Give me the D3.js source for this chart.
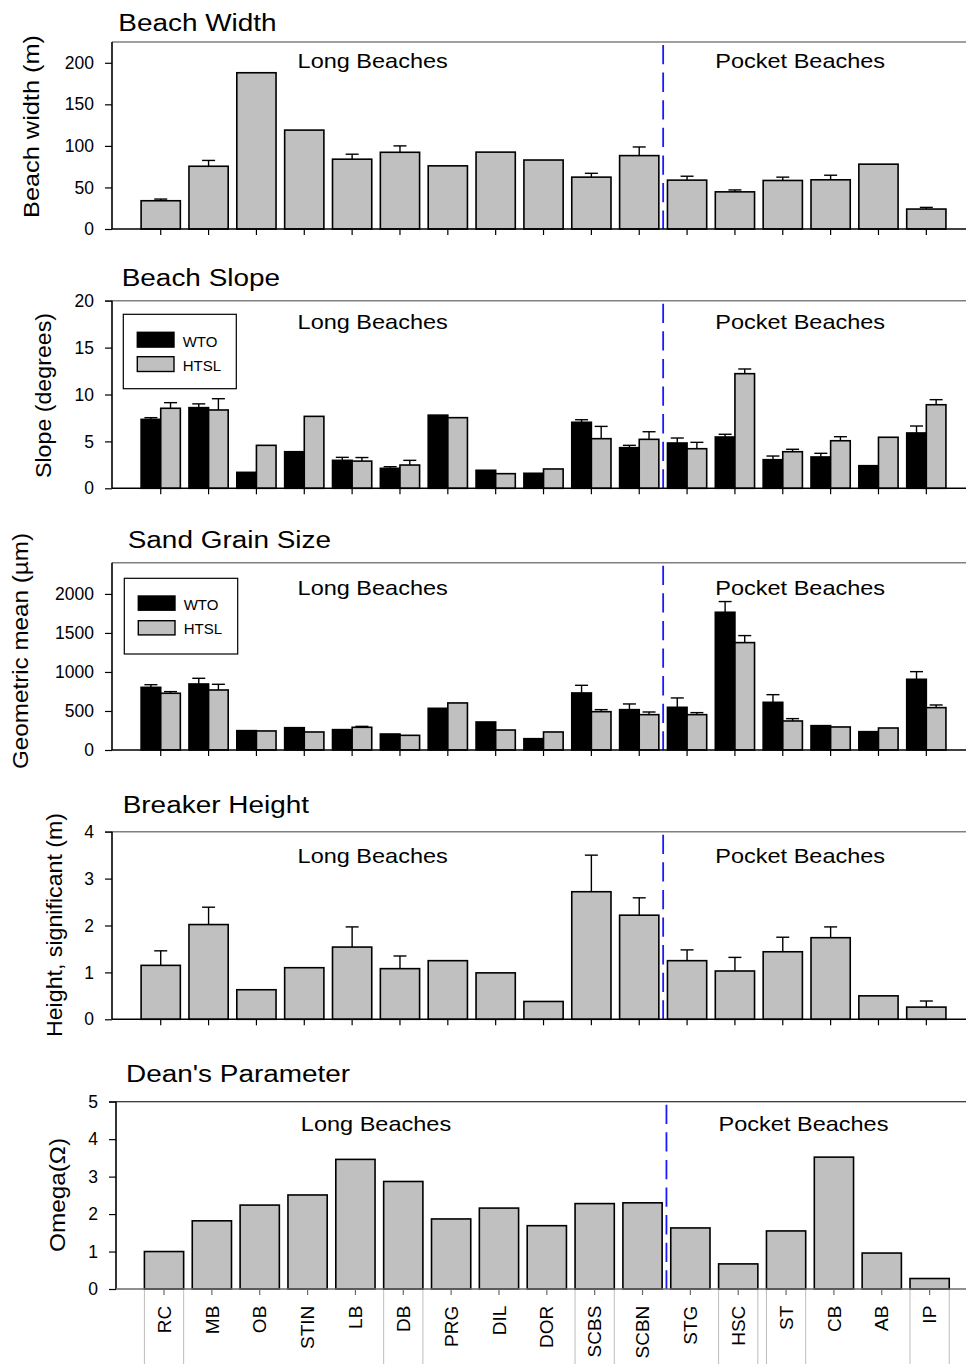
<!DOCTYPE html>
<html>
<head>
<meta charset="utf-8">
<script src="https://cdn.jsdelivr.net/npm/d3@7"></script>
<style>
  html, body { margin: 0; padding: 0; background: #fff; }
  svg { display: block; font-family: "Liberation Sans", Arial, Helvetica, sans-serif; }
</style>
</head>
<body>
<svg id="chart" width="966" height="1364"></svg>
<script>
// Beach sites, long beaches first, pocket beaches from STG on
const categories = ["RC", "MB", "OB", "STIN", "LB", "DB", "PRG", "DIL", "DOR", "SCBS", "SCBN",
                    "STG", "HSC", "ST", "CB", "AB", "IP"];
const firstPocket = "STG";
const regionLabels = ["Long Beaches", "Pocket Beaches"];
const seriesNames = ["WTO", "HTSL"];

// Beach width (m) with upper error
const widthMean = [34, 75.5, 188, 119, 84, 92.3, 76, 92.5, 83, 62.4, 88.3, 58.8, 44.7, 58.4, 59.2, 78, 24];
const widthErr  = [2, 7, 0, 0, 6, 7.7, 0, 0, 0, 4.6, 10.4, 4.7, 2.3, 4, 5.5, 0, 2];

// Beach slope (degrees)
const slopeWTO     = [7.35, 8.6, 1.7, 3.9, 2.98, 2.13, 7.8, 1.92, 1.6, 7.04, 4.33, 4.83, 5.47, 3.05, 3.34, 2.41, 5.9];
const slopeWTOErr  = [0.18, 0.4, 0, 0, 0.32, 0.17, 0, 0, 0, 0.27, 0.25, 0.53, 0.29, 0.39, 0.39, 0, 0.74];
const slopeHTSL    = [8.53, 8.35, 4.58, 7.67, 2.9, 2.48, 7.53, 1.56, 2.06, 5.29, 5.22, 4.22, 12.22, 3.9, 5.07, 5.44, 8.91];
const slopeHTSLErr = [0.6, 1.2, 0, 0, 0.38, 0.5, 0, 0, 0, 1.31, 0.81, 0.68, 0.5, 0.26, 0.43, 0, 0.54];

// Sand grain size, geometric mean (µm)
const grainWTO     = [803, 846, 248, 286, 261, 205, 534, 359, 145, 731, 517, 547, 1765, 611, 312, 235, 906];
const grainWTOErr  = [34, 73, 0, 0, 0, 0, 0, 0, 0, 98, 73, 120, 137, 98, 0, 0, 98];
const grainHTSL    = [727, 769, 244, 231, 291, 188, 603, 256, 231, 491, 453, 453, 1376, 372, 295, 282, 543];
const grainHTSLErr = [21, 73, 0, 0, 12, 0, 0, 0, 0, 26, 34, 26, 90, 30, 0, 0, 34];

// Significant breaker height (m)
const breakerHeight = [1.15, 2.02, 0.63, 1.1, 1.54, 1.08, 1.25, 0.99, 0.38, 2.72, 2.22, 1.25, 1.03, 1.44, 1.74, 0.5, 0.26];
const breakerErr    = [0.31, 0.37, 0, 0, 0.43, 0.27, 0, 0, 0, 0.78, 0.37, 0.23, 0.29, 0.31, 0.23, 0, 0.13];

// Dean's parameter, Omega
const deanOmega = [1.0, 1.82, 2.24, 2.51, 3.46, 2.87, 1.87, 2.16, 1.69, 2.28, 2.30, 1.63, 0.67, 1.55, 3.52, 0.96, 0.28];

// Tick values
const widthTicks  = [0, 50, 100, 150, 200];
const slopeTicks  = [0, 5, 10, 15, 20];
const grainTicks  = [0, 500, 1000, 1500, 2000];
const heightTicks = [0, 1, 2, 3, 4];
const omegaTicks  = [0, 1, 2, 3, 4, 5];

// Sites whose bar edges carry faint guide lines below the last panel
const guideSites = ["RC", "DB", "SCBS", "HSC", "ST", "IP"];

const svg = d3.select("#chart");
const W = 966, H = 1364;
const GRAY = "#c0c0c0";

function single(values, errs) {
  return [{ name: null, values, errs, fill: GRAY }];
}
function paired(a, ae, b, be) {
  return [{ name: seriesNames[0], values: a, errs: ae, fill: "#000" },
          { name: seriesNames[1], values: b, errs: be, fill: GRAY }];
}

const panels = [
  { title: "Beach Width", tx: 118.3, ty: 31, ylab: "Beach width (m)", lx: 31, ly: 126.5, llen: 183,
    top: 42, bottom: 229, ax: 112, x0: 136.8, ymax: 225, ticks: widthTicks, regionY: 68.3,
    frame: "#808080", frameW: 1.6, baseColor: "#000", series: single(widthMean, widthErr), legend: null },
  { title: "Beach Slope", tx: 121.7, ty: 286, ylab: "Slope (degrees)", lx: 43, ly: 395.5, llen: 165,
    top: 300.7, bottom: 488.3, ax: 112, x0: 136.8, ymax: 20, ticks: slopeTicks, regionY: 328.5,
    frame: "#808080", frameW: 1.6, baseColor: "#000",
    series: paired(slopeWTO, slopeWTOErr, slopeHTSL, slopeHTSLErr),
    legend: { x: 123.3, y: 314.3, w: 113, h: 74.4, sy: [332.3, 356.7], sh: 14.8, ty: [346.5, 370.5] } },
  { title: "Sand Grain Size", tx: 127.7, ty: 548.3, ylab: "Geometric mean (\u00b5m)", lx: 20, ly: 651, llen: 236,
    top: 562.7, bottom: 750, ax: 112, x0: 136.8, ymax: 2400, ticks: grainTicks, regionY: 594.5,
    frame: "#808080", frameW: 1.6, baseColor: "#000",
    series: paired(grainWTO, grainWTOErr, grainHTSL, grainHTSLErr),
    legend: { x: 124.3, y: 578.3, w: 113.4, h: 75.7, sy: [596, 620.7], sh: 14.2, ty: [610, 634] } },
  { title: "Breaker Height", tx: 122.7, ty: 813.3, ylab: "Height, significant (m)", lx: 54, ly: 925, llen: 224,
    top: 831.7, bottom: 1019.3, ax: 112, x0: 136.8, ymax: 4, ticks: heightTicks, regionY: 863.3,
    frame: "#808080", frameW: 1.6, baseColor: "#000", series: single(breakerHeight, breakerErr), legend: null },
  { title: "Dean's Parameter", tx: 126, ty: 1081.7, ylab: "Omega(\u03a9)", lx: 57, ly: 1195, llen: 114,
    top: 1101.7, bottom: 1289, ax: 116, x0: 140.1, ymax: 5, ticks: omegaTicks, regionY: 1131.3,
    frame: "#000", frameW: 1.1, baseColor: "#6a6a6a", series: single(deanOmega, categories.map(() => 0)),
    legend: null, lastPanel: true }
];

const STEP = 47.85;

// Text stretched along its own direction
function label(g, str, x, y, size, sx, opts = {}) {
  const rot = opts.rotate ? " rotate(-90)" : "";
  const t = g.append("text")
    .attr("transform", `translate(${x},${y})${rot} scale(${sx},1)`)
    .attr("font-size", size)
    .attr("text-anchor", opts.anchor || "start")
    .attr("dy", opts.dy || null)
    .attr("fill", "#000")
    .text(str);
  if (opts.length) t.attr("textLength", opts.length).attr("lengthAdjust", "spacingAndGlyphs");
  return t;
}

panels.forEach(p => {
  const g = svg.append("g");
  const x = d3.scaleBand().domain(categories)
    .range([p.x0, p.x0 + STEP * categories.length])
    .paddingInner(0.18).paddingOuter(0.09);
  const y = d3.scaleLinear().domain([0, p.ymax]).range([p.bottom, p.top]);
  const bw = x.bandwidth();

  // top frame line
  g.append("line")
    .attr("x1", p.ymax === p.ticks[p.ticks.length - 1] ? p.ax - 7 : p.ax).attr("x2", W)
    .attr("y1", p.top).attr("y2", p.top)
    .attr("stroke", p.frame).attr("stroke-width", p.frameW);

  // bars
  const nS = p.series.length;
  const sub = bw / nS;
  p.series.forEach((s, si) => {
    g.append("g").selectAll("rect").data(categories).join("rect")
      .attr("x", d => x(d) + si * sub)
      .attr("y", (d, i) => y(s.values[i]))
      .attr("width", sub)
      .attr("height", (d, i) => y(0) - y(s.values[i]))
      .attr("fill", s.fill)
      .attr("stroke", "#000")
      .attr("stroke-width", 1.6);
  });

  // upper error bars
  p.series.forEach((s, si) => {
    const eg = g.append("g").attr("stroke", "#000").attr("stroke-width", 1.4);
    categories.forEach((c, i) => {
      if (!s.errs[i]) return;
      const cx = x(c) + si * sub + sub / 2;
      const yt = y(s.values[i] + s.errs[i]);
      eg.append("line").attr("x1", cx).attr("x2", cx).attr("y1", y(s.values[i])).attr("y2", yt);
      eg.append("line").attr("x1", cx - 6.5).attr("x2", cx + 6.5).attr("y1", yt).attr("y2", yt);
    });
  });

  // divider between long and pocket beaches
  const iP = categories.indexOf(firstPocket);
  const dx = (x(categories[iP - 1]) + x(categories[iP])) / 2 + bw / 2;
  g.append("line")
    .attr("x1", dx).attr("x2", dx).attr("y1", p.top + 3).attr("y2", p.bottom)
    .attr("stroke", "#1a1aff").attr("stroke-width", 1.8)
    .attr("stroke-dasharray", "19.3,8.3");

  // y axis
  const ya = d3.axisLeft(y).tickValues(p.ticks).tickSize(7).tickPadding(11).tickFormat(d3.format("d"));
  const yg = g.append("g").attr("transform", `translate(${p.ax},0)`).call(ya);
  yg.select(".domain").remove();
  yg.selectAll(".tick line").attr("stroke", "#000").attr("stroke-width", 1.2);
  yg.selectAll(".tick text").attr("font-size", 17.5).attr("fill", "#000")
    .attr("font-family", "'Liberation Sans', Arial, sans-serif");
  g.append("line").attr("x1", p.ax).attr("x2", p.ax).attr("y1", p.top).attr("y2", p.bottom)
    .attr("stroke", "#000").attr("stroke-width", 1.6);

  // x axis
  const xa = d3.axisBottom(x).tickSize(6).tickFormat(p.lastPanel ? null : "");
  const xg = g.append("g").attr("transform", `translate(0,${p.bottom})`).call(xa);
  xg.select(".domain").remove();
  xg.selectAll(".tick line").attr("stroke", p.baseColor).attr("stroke-width", 1.2);
  g.append("line").attr("x1", p.ax).attr("x2", W).attr("y1", p.bottom).attr("y2", p.bottom)
    .attr("stroke", p.baseColor).attr("stroke-width", 1.6);

  if (p.lastPanel) {
    xg.selectAll(".tick text")
      .attr("transform", "rotate(-90)")
      .attr("x", -(1305.7 - p.bottom)).attr("y", 0).attr("dy", "0.35em")
      .attr("text-anchor", "end").attr("font-size", 19).attr("fill", "#000")
      .attr("font-family", "'Liberation Sans', Arial, sans-serif");
    // faint guide lines under selected bars
    const gl = g.append("g").attr("stroke", "#bdbdbd").attr("stroke-width", 1);
    guideSites.forEach(c => {
      [x(c), x(c) + bw].forEach(xx => {
        gl.append("line").attr("x1", xx).attr("x2", xx).attr("y1", p.bottom + 1).attr("y2", H);
      });
    });
  }

  // titles and labels
  label(g, p.title, p.tx, p.ty, 24.5, 1.14);
  label(g, p.ylab, p.lx, p.ly, 22, 1, { rotate: true, anchor: "middle", dy: "0.35em", length: p.llen });
  label(g, regionLabels[0], p.x0 + 235.9, p.regionY, 21, 1.12, { anchor: "middle" });
  label(g, regionLabels[1], p.x0 + 663.4, p.regionY, 21, 1.12, { anchor: "middle" });

  // legend
  if (p.legend) {
    const L = p.legend;
    const lg = g.append("g");
    lg.append("rect").attr("x", L.x).attr("y", L.y).attr("width", L.w).attr("height", L.h)
      .attr("fill", "#fff").attr("stroke", "#000").attr("stroke-width", 1.2);
    p.series.forEach((s, si) => {
      lg.append("rect").attr("x", L.x + 14).attr("y", L.sy[si]).attr("width", 36.7).attr("height", L.sh)
        .attr("fill", s.fill).attr("stroke", "#000").attr("stroke-width", 1.4);
      label(lg, s.name, L.x + 59.4, L.ty[si], 15, 1.0);
    });
  }
});
</script>
</body>
</html>
